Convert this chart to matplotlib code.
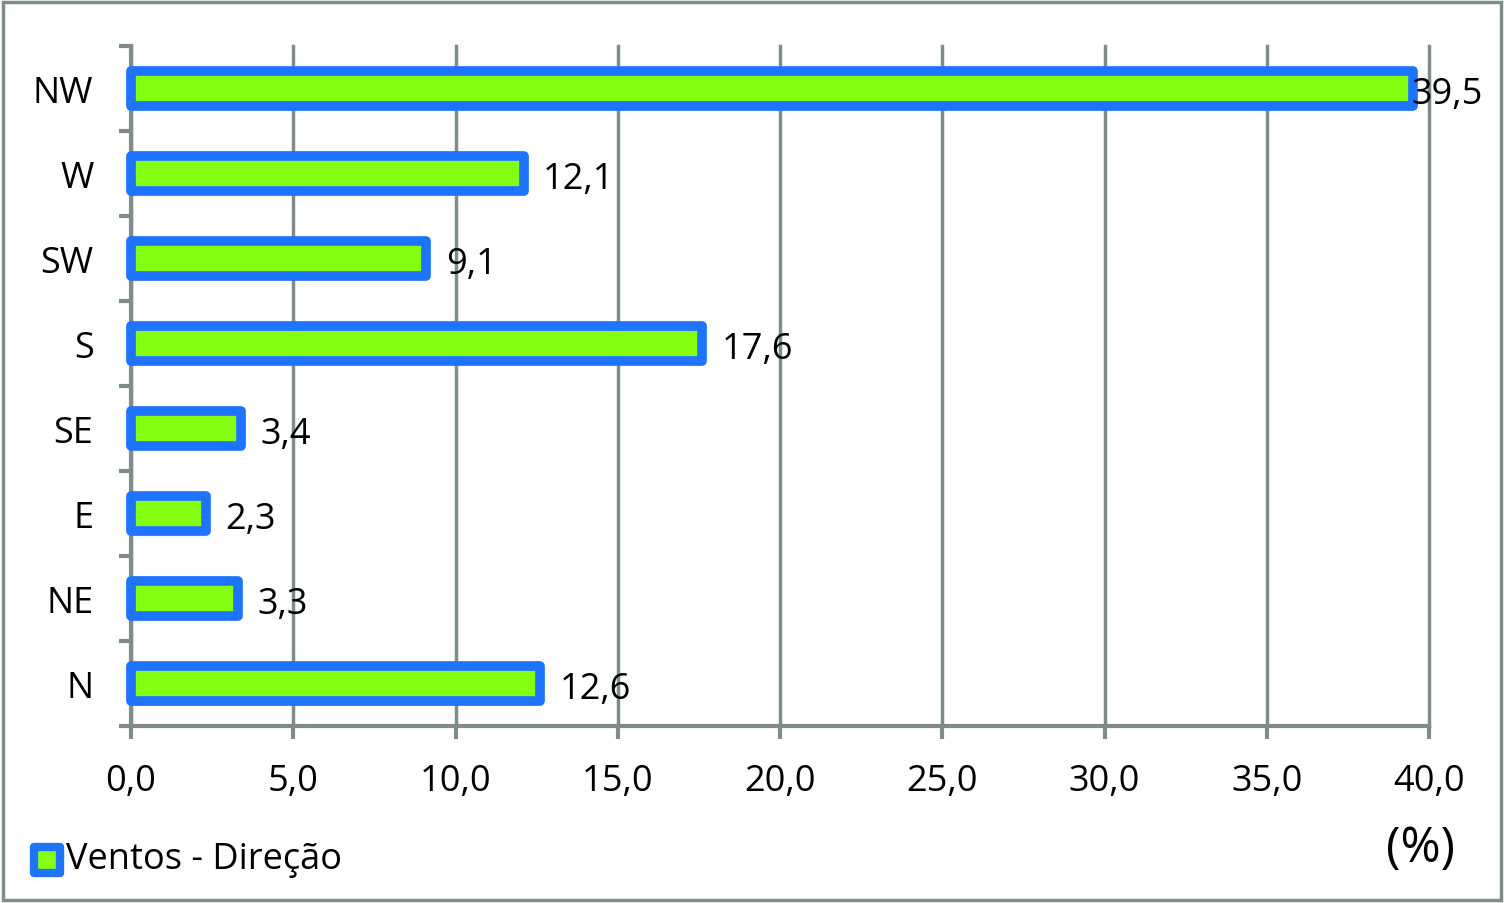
import matplotlib.pyplot as plt
import numpy as np
from matplotlib.patches import Rectangle
from matplotlib.ticker import FixedLocator, FuncFormatter

plt.rcParams['font.family'] = ['Open Sans', 'DejaVu Sans']

direcoes = ['N', 'NE', 'E', 'SE', 'S', 'SW', 'W', 'NW']
valores = [12.6, 3.3, 2.3, 3.4, 17.6, 9.1, 12.1, 39.5]
x_ticks = [0, 5, 10, 15, 20, 25, 30, 35, 40]

azul = '#1f74ff'
verde = '#84ff14'
cinza = '#7f8c8c'
fs = 26

fig = plt.figure(figsize=(15.04, 9.04), dpi=100)
ax = fig.add_axes([131 / 1504, 1 - 727 / 904, 1298 / 1504, 680 / 904])

y = np.arange(len(direcoes))
bars = ax.barh(y, valores, height=0.42, color=verde, edgecolor=azul,
               linewidth=7, joinstyle='round', zorder=3, clip_on=False)

for b, v in zip(bars, valores):
    ax.annotate(f'{v:.1f}'.replace('.', ','), (v, b.get_y() + b.get_height() / 2),
                xytext=(14 if v < 39 else -1, -4), textcoords='offset points',
                va='center', ha='left', fontsize=fs, zorder=4)

ax.set_xlim(0, 40)
ax.set_ylim(-0.5, len(direcoes) - 0.5)
ax.xaxis.set_major_locator(FixedLocator(x_ticks))
ax.xaxis.set_major_formatter(FuncFormatter(lambda v, p: f'{v:.1f}'.replace('.', ',')))
ax.set_yticks(y)
ax.set_yticklabels(direcoes)
ax.set_yticks(np.arange(-0.5, len(direcoes)), minor=True)
ax.tick_params(axis='y', which='major', length=0, pad=27, labelsize=fs)
ax.tick_params(axis='y', which='minor', length=9, width=3, color=cinza, direction='out')
ax.tick_params(axis='x', length=9, width=3, color=cinza, direction='out', pad=18, labelsize=fs)

ax.grid(axis='x', color=cinza, linewidth=2.5, zorder=0)
for gl in ax.get_xgridlines():
    gl.set_clip_on(False)
for s in ['top', 'right']:
    ax.spines[s].set_visible(False)
for s in ['left', 'bottom']:
    ax.spines[s].set_color(cinza)
    ax.spines[s].set_linewidth(3)

# legenda
fig.patches.append(Rectangle((34 / 1504, 1 - 874 / 904), 26 / 1504, 26 / 904,
                             transform=fig.transFigure, facecolor=verde,
                             edgecolor=azul, linewidth=6, joinstyle='round'))
fig.text(66 / 1504, 1 - 860 / 904, 'Ventos - Direção', fontsize=fs, va='center', ha='left')
fig.text(1420 / 1504, 1 - 849 / 904, '(%)', fontsize=35, va='center', ha='center')

# moldura
fig.patches.append(Rectangle((3 / 1504, 3 / 904), 1498 / 1504, 898 / 904,
                             transform=fig.transFigure, fill=False,
                             edgecolor=cinza, linewidth=2.5))

fig.savefig('out.png', dpi=100)
